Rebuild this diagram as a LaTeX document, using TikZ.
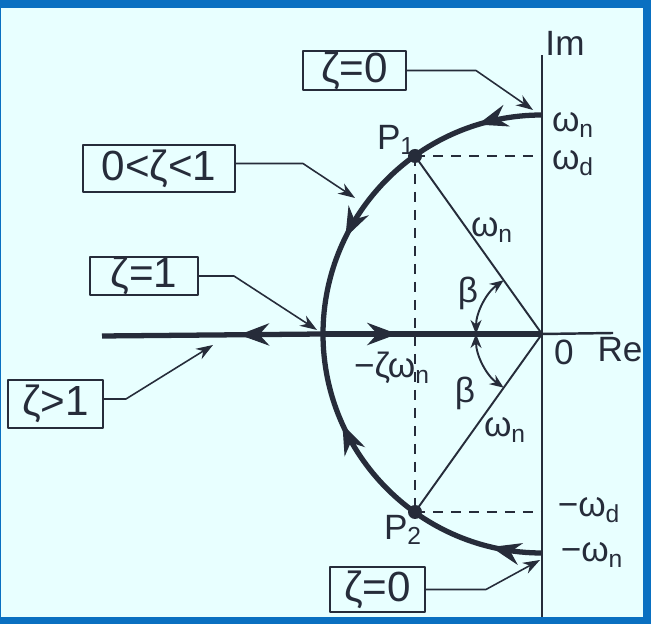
\documentclass[tikz,border=0pt]{standalone}
\usepackage{fontspec}
\setmainfont{Liberation Sans}
\usetikzlibrary{positioning, arrows.meta, decorations.markings}
\definecolor{framecolor}{RGB}{10, 112, 193}
\definecolor{papercolor}{RGB}{232, 255, 255}
\definecolor{inkcolor}{RGB}{38, 44, 58}

\begin{document}
\begin{tikzpicture}[x=0.02cm, y=0.02cm, line join=round,
    every node/.style={text=inkcolor, font=\fontsize{20}{24}\selectfont},
    zetabox/.style={draw=inkcolor, line width=1.1pt, inner sep=0pt,
                    font=\fontsize{24}{28}\selectfont},
    callout/.style={draw=inkcolor, line width=0.9pt,
                    -{Stealth[length=3.4mm, width=2.4mm]}},
    axisline/.style={draw=inkcolor, line width=1.4pt},
    guide/.style={draw=inkcolor, line width=1pt, dash pattern=on 2mm off 1.6mm},
    locus/.style={draw=inkcolor, line width=3pt},
    locustip/.tip={Stealth[length=6mm, width=4.4mm]},
    twoarrows/.style 2 args={postaction={decorate},
        decoration={markings,
          mark=at position #1 with {\arrow{locustip}},
          mark=at position #2 with {\arrow{locustip}}}},
    onearrow/.style={postaction={decorate},
        decoration={markings, mark=at position #1 with {\arrow{locustip}}}},
    betaarc/.style={draw=inkcolor, line width=1.1pt,
                    {Stealth[length=2.8mm, width=2.2mm]}-{Stealth[length=2.8mm, width=2.2mm]}}]

  % frame and paper
  \fill[framecolor] (0,0) rectangle (651,624);
  \fill[papercolor] (1,7) rectangle (643,616);
  \useasboundingbox (0,0) rectangle (651,624);

  \coordinate (O) at (542,290);
  \coordinate (imtop) at (542,569);
  \coordinate (imbot) at (542,7);
  \coordinate (reL) at (102,288);
  \coordinate (reR) at (613,291);
  \coordinate (wn) at (542,509);
  \coordinate (mwn) at (542,71);
  \coordinate (xi) at (323,290);
  \coordinate (P1) at (415,468);
  \coordinate (P2) at (415,112);
  \coordinate (wd) at (542,468);
  \coordinate (mwd) at (542,112);

  % axes
  \draw[axisline] (imbot) -- (imtop);
  \draw[axisline] (O) -- (reR);
  \node (imlab) at (565,581) {Im};
  \node (zerolab) at (564,272) {0};
  \node (relab) at (620,274) {Re};

  % projections of the poles
  \draw[guide] (P1) -- (wd);
  \draw[guide] (P2) -- (mwd);
  \draw[guide] (P1) -- (P2);
  \draw[axisline, line width=1.1pt] (O) -- (P1);
  \draw[axisline, line width=1.1pt] (O) -- (P2);

  % root locus
  \draw[locus, twoarrows={0.19}{0.71}] (wn) arc (90:180:219);
  \draw[locus, twoarrows={0.15}{0.73}] (mwn) arc (270:180:219);
  \draw[locus, onearrow=0.38] (xi) -- (reL);
  \draw[locus, onearrow=0.34] (xi) -- (O);
  \fill[inkcolor] (P1) circle (7);
  \fill[inkcolor] (P2) circle (7);

  % angle beta
  \draw[betaarc] ([shift={(180:66)}]O) arc (180:125.5:66);
  \draw[betaarc] ([shift={(180:66)}]O) arc (180:234.5:66);
  \node (beta1) at (468,331) {β};
  \node (beta2) at (465,231) {β};

  % labels
  \node (p1lab) at (396,484) {P\textsubscript{1}};
  \node (p2lab) at (403,94) {P\textsubscript{2}};
  \node (wnup) at (492,394) {ω\textsubscript{n}};
  \node (wndown) at (505,194) {ω\textsubscript{n}};
  \node (xilab) at (392,256) {−ζω\textsubscript{n}};
  \node (wnlab) at (573,499) {ω\textsubscript{n}};
  \node (wdlab) at (573,461) {ω\textsubscript{d}};
  \node (mwdlab) at (589,114) {−ω\textsubscript{d}};
  \node (mwnlab) at (592,69) {−ω\textsubscript{n}};

  % damping boxes
  \node[zetabox, minimum width=2.06cm, minimum height=0.78cm] (z0top) at (354.5,553.5) {ζ=0};
  \node[zetabox, minimum width=3.04cm, minimum height=0.94cm] (zmid) at (159,455.5) {0<ζ<1};
  \node[zetabox, minimum width=2.16cm, minimum height=0.76cm] (zone) at (144,348) {ζ=1};
  \node[zetabox, minimum width=1.9cm, minimum height=0.96cm] (zgtone) at (55.5,220) {ζ>1};
  \node[zetabox, minimum width=1.9cm, minimum height=0.9cm] (z0bot) at (377.5,34.5) {ζ=0};

  \coordinate (tipA) at (533,514);
  \coordinate (tipB) at (355,426);
  \coordinate (tipC) at (317,294);
  \coordinate (tipD) at (213,279);
  \coordinate (tipE) at (540,64);
  \draw[callout] (z0top.east) -- ++(69,0) -- (tipA);
  \draw[callout] ([yshift=0.1cm]zmid.east) -- ++(67,0) -- (tipB);
  \draw[callout] (zone.east) -- ++(35,0) -- (tipC);
  \draw[callout] ([yshift=0.1cm]zgtone.east) -- ++(22,0) -- (tipD);
  \draw[callout] (z0bot.east) -- ++(60,0) -- (tipE);
\end{tikzpicture}
\end{document}
